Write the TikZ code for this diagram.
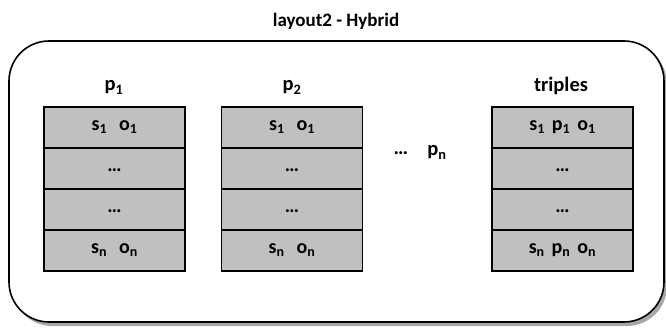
\documentclass[tikz,border=0pt]{standalone}
\usepackage{fontspec}
\setmainfont{Carlito}
\begin{document}
\begin{tikzpicture}[x=1pt,y=-1pt,
  cell/.style={draw=black, line width=1.6pt, fill=cellgray, minimum width=141pt,
    minimum height=41pt, inner sep=0pt, text height=10pt, text depth=4pt,
    font=\bfseries\fontsize{20}{24}\selectfont},
  lbl/.style={font=\bfseries\fontsize{20.5}{24}\selectfont, inner sep=0pt, anchor=base}]
\definecolor{cellgray}{HTML}{C0C0C0}
\definecolor{shadowgray}{HTML}{A8A8A8}
\useasboundingbox (0,0) rectangle (666,328);
% container with drop shadow
\fill[shadowgray, rounded corners=40pt] (12,44) rectangle (667,326);
\draw[line width=1.6pt, fill=white, rounded corners=40pt] (9,41) rectangle (664,322);
\node[lbl, font=\bfseries\fontsize{19}{23}\selectfont] (title) at (336,26.5) {layout2 - Hybrid};
% column headings
\node[lbl] (hp1) at (114,91) {p\textsubscript{1}};
\node[lbl] (hp2) at (292,91) {p\textsubscript{2}};
\node[lbl] (htr) at (561,91.5) {triples};
\node[lbl] (dots) at (401,155) {…};
\node[lbl] (hpn) at (437,156) {p\textsubscript{n}};
% one table per predicate
\foreach \cx/\tb in {114.5/A, 292/B}{
  \node[cell] (\tb1) at (\cx,127.5) {s\textsubscript{1}\hspace{0.6em}o\textsubscript{1}};
  \node[cell] (\tb2) at (\cx,168.5) {…};
  \node[cell] (\tb3) at (\cx,209.5) {…};
  \node[cell] (\tb4) at (\cx,250.5) {s\textsubscript{n}\hspace{0.6em}o\textsubscript{n}};
}
% triples table
\node[cell] (C1) at (562.5,127.5) {s\textsubscript{1}\hspace{0.35em}p\textsubscript{1}\hspace{0.35em}o\textsubscript{1}};
\node[cell] (C2) at (562.5,168.5) {…};
\node[cell] (C3) at (562.5,209.5) {…};
\node[cell] (C4) at (562.5,250.5) {s\textsubscript{n}\hspace{0.35em}p\textsubscript{n}\hspace{0.35em}o\textsubscript{n}};
\end{tikzpicture}
\end{document}
